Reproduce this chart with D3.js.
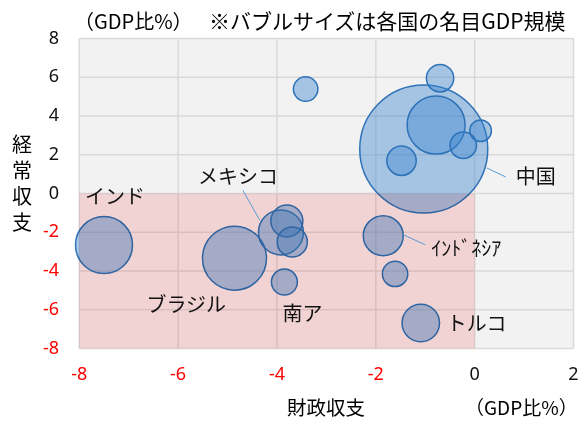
<!DOCTYPE html>
<html>
<head>
<meta charset="utf-8">
<script src="https://cdn.jsdelivr.net/npm/d3@7"></script>
<style>
body { margin: 0; background: #fff; }
text { font-family: "Noto Sans CJK JP", "Noto Sans", sans-serif; }
</style>
</head>
<body>
<script>
// chart size
var w = 580, h = 421;

// bubble data: fiscal balance (x), current account (y), nominal GDP (size)
var fiscal  = [-1.03, -0.78, -0.70, 0.12, -0.23, -1.48, -3.42, -7.50, -4.86, -3.92, -3.80, -3.69, -3.85, -1.85, -1.61, -1.09];
var current = [2.30, 3.53, 5.95, 3.24, 2.49, 1.69, 5.39, -2.66, -3.34, -2.01, -1.42, -2.50, -4.57, -2.18, -4.15, -6.68];
var gdp     = [11.2, 2.30, 0.51, 0.32, 0.48, 0.59, 0.41, 2.22, 2.80, 1.38, 0.70, 0.62, 0.46, 1.09, 0.44, 0.96];

// tick values
var xTicks = [-8, -6, -4, -2, 0, 2];
var yTicks = [-8, -6, -4, -2, 0, 2, 4, 6, 8];

// country labels: bubble index, text, offset from bubble centre, optional leader line
var labels = [
    { i: 0,  text: "中国",     dx: 92,  dy: 27,  line: [63, 19, 82, 28] },
    { i: 7,  text: "インド",   dx: -19, dy: -50 },
    { i: 9,  text: "メキシコ", dx: -83, dy: -57, line: [-38, -42, -21, -12] },
    { i: 8,  text: "ブラジル", dx: -88, dy: 45 },
    { i: 12, text: "南ア",     dx: -2,  dy: 30 },
    { i: 13, text: "ｲﾝﾄﾞﾈｼｱ", dx: 48,  dy: 12,  line: [20, -1, 42, 9] },
    { i: 15, text: "トルコ",   dx: 26,  dy: 0 }
];

window.onload = function () {
    var svg = d3.select("body").append("svg")
        .attr("width", w)
        .attr("height", h);

    // scales
    var x = d3.scaleLinear().domain([-8, 2]).range([79.3, 573.5]);
    var y = d3.scaleLinear().domain([-8, 8]).range([348.5, 38.5]);
    var r = d3.scaleSqrt().domain([0, d3.max(gdp)]).range([0, 64]);

    // plot background
    svg.append("rect")
        .attr("x", x(-8)).attr("y", y(8))
        .attr("width", x(2) - x(-8)).attr("height", y(-8) - y(8))
        .style("fill", "#f2f2f2");

    // gridlines
    svg.selectAll(".xgrid").data(xTicks).enter().append("line")
        .attr("class", "xgrid")
        .attr("x1", function (d) { return x(d); }).attr("x2", function (d) { return x(d); })
        .attr("y1", y(8)).attr("y2", y(-8))
        .style("stroke", "#d9d9d9").style("stroke-width", 1.5);
    svg.selectAll(".ygrid").data(yTicks).enter().append("line")
        .attr("class", "ygrid")
        .attr("x1", x(-8)).attr("x2", x(2))
        .attr("y1", function (d) { return y(d); }).attr("y2", function (d) { return y(d); })
        .style("stroke", "#d9d9d9").style("stroke-width", 1.5);

    // bubbles
    var idx = d3.range(gdp.length);
    svg.selectAll(".bubble").data(idx).enter().append("circle")
        .attr("class", "bubble")
        .attr("cx", function (i) { return x(fiscal[i]); })
        .attr("cy", function (i) { return y(current[i]); })
        .attr("r", function (i) { return r(gdp[i]); })
        .style("fill", "#3b85cf")
        .style("fill-opacity", 0.42)
        .style("stroke", "#2e72b8")
        .style("stroke-width", 1.5);

    // pink quadrant (both deficits), multiplied over the bubbles
    svg.append("rect")
        .attr("x", x(-8)).attr("y", y(0))
        .attr("width", x(0) - x(-8)).attr("height", y(-8) - y(0))
        .style("fill", "#ffdfdf")
        .style("mix-blend-mode", "multiply");

    // leader lines
    svg.selectAll(".leader").data(labels.filter(function (d) { return d.line; })).enter().append("line")
        .attr("class", "leader")
        .attr("x1", function (d) { return x(fiscal[d.i]) + d.line[0]; })
        .attr("y1", function (d) { return y(current[d.i]) + d.line[1]; })
        .attr("x2", function (d) { return x(fiscal[d.i]) + d.line[2]; })
        .attr("y2", function (d) { return y(current[d.i]) + d.line[3]; })
        .style("stroke", "#5b9bd5").style("stroke-width", 1);

    // country labels
    svg.selectAll(".label").data(labels).enter().append("text")
        .attr("class", "label")
        .attr("x", function (d) { return x(fiscal[d.i]) + d.dx; })
        .attr("y", function (d) { return y(current[d.i]) + d.dy; })
        .attr("dominant-baseline", "central")
        .style("font-size", "20px")
        .style("fill", "#111")
        .text(function (d) { return d.text; });

    // tick labels (negatives in red)
    svg.selectAll(".xtick").data(xTicks).enter().append("text")
        .attr("class", "xtick")
        .attr("x", function (d) { return x(d); })
        .attr("y", 373)
        .attr("text-anchor", "middle")
        .attr("dominant-baseline", "central")
        .style("font-family", "'Noto Sans', sans-serif")
        .style("font-size", "18px")
        .style("fill", function (d) { return d < 0 ? "#ff0000" : "#111"; })
        .text(function (d) { return d; });
    svg.selectAll(".ytick").data(yTicks).enter().append("text")
        .attr("class", "ytick")
        .attr("x", 59)
        .attr("y", function (d) { return y(d) - 2; })
        .attr("text-anchor", "end")
        .attr("dominant-baseline", "central")
        .style("font-family", "'Noto Sans', sans-serif")
        .style("font-size", "18px")
        .style("fill", function (d) { return d < 0 ? "#ff0000" : "#111"; })
        .text(function (d) { return d; });

    // titles
    svg.append("text")
        .attr("x", 74).attr("y", 20)
        .attr("dominant-baseline", "central")
        .style("font-size", "20px")
        .text("（GDP比%）");
    svg.append("text")
        .attr("x", 209).attr("y", 20)
        .attr("dominant-baseline", "central")
        .style("font-size", "21px")
        .text("※バブルサイズは各国の名目GDP規模");
    svg.append("text")
        .attr("x", 326).attr("y", 406)
        .attr("text-anchor", "middle")
        .attr("dominant-baseline", "central")
        .style("font-size", "19.5px")
        .text("財政収支");
    svg.append("text")
        .attr("x", 465).attr("y", 406)
        .attr("dominant-baseline", "central")
        .style("font-size", "19px")
        .text("（GDP比%）");

    // vertical y-axis title
    svg.append("text")
        .attr("x", 22)
        .attr("y", 134)
        .style("writing-mode", "vertical-rl")
        .style("letter-spacing", "6px")
        .style("font-size", "20px")
        .text("経常収支");
};
</script>
</body>
</html>
